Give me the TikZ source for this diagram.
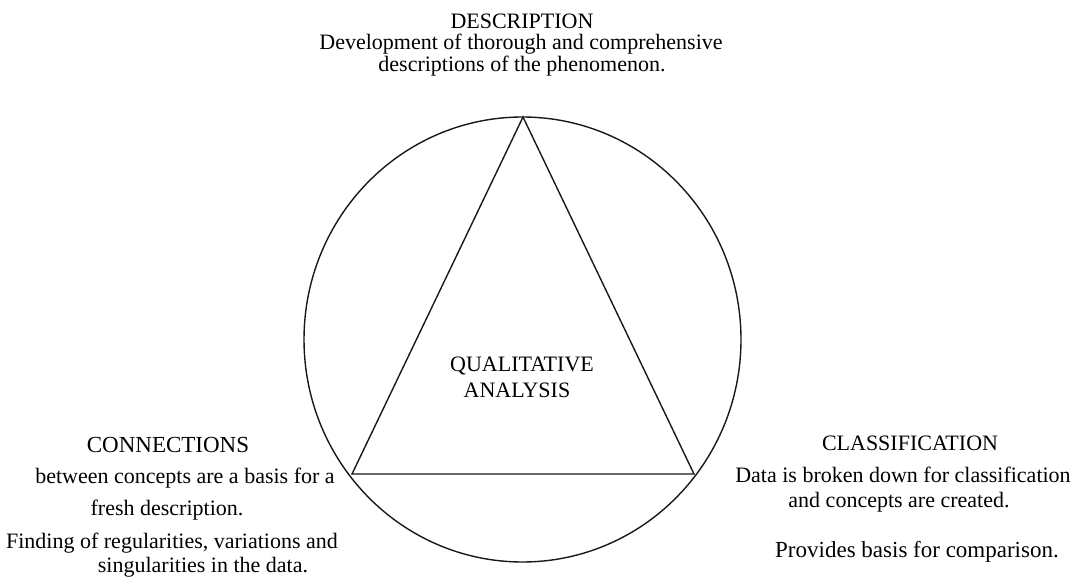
\documentclass[tikz,border=0pt]{standalone}
\usepackage{fontspec}
\setmainfont{Liberation Serif}
\begin{document}
\begin{tikzpicture}[x=1pt,y=-1pt,
  outline/.style={line width=1.4pt, draw=black!90, line join=miter},
  txt/.style={anchor=base, inner sep=0pt, font=\fontsize{22}{24}\selectfont},
  wide/.style={txt, font=\fontsize{23}{25}\selectfont}]
\useasboundingbox[fill=white] (0,0) rectangle (1084,577);

% outer cycle and the analysis triangle
\coordinate (centre) at (522.5,339.5);
\draw[outline] (centre) ellipse [x radius=218.5, y radius=222.5];
\coordinate (apex) at (523,117);
\coordinate (left) at (352,474);
\coordinate (right) at (694,474);
\draw[outline] (apex) -- (left) -- (right) -- cycle;

% centre label
\node[txt] (q1) at (522,371) {QUALITATIVE};
\node[txt] (q2) at (517,397) {ANALYSIS};

% description (top)
\node[txt] (d0) at (522,29) {DESCRIPTION};
\node[txt] (d1) at (521,50) {Development of thorough and comprehensive};
\node[txt] (d2) at (522,72) {descriptions of the phenomenon.};

% connections (left)
\node[wide] (c0) at (168,452) {CONNECTIONS};
\node[txt] (c1) at (185,483) {between concepts are a basis for a};
\node[txt] (c2) at (167,515) {fresh description.};
\node[txt] (c3) at (172,548) {Finding of regularities, variations and};
\node[txt] (c4) at (203,572) {singularities in the data.};

% classification (right)
\node[txt] (k0) at (910,450) {CLASSIFICATION};
\node[txt] (k1) at (903,482) {Data is broken down for classification};
\node[txt] (k2) at (899,507) {and concepts are created.};
\node[wide] (k3) at (917,557) {Provides basis for comparison.};
\end{tikzpicture}
\end{document}
